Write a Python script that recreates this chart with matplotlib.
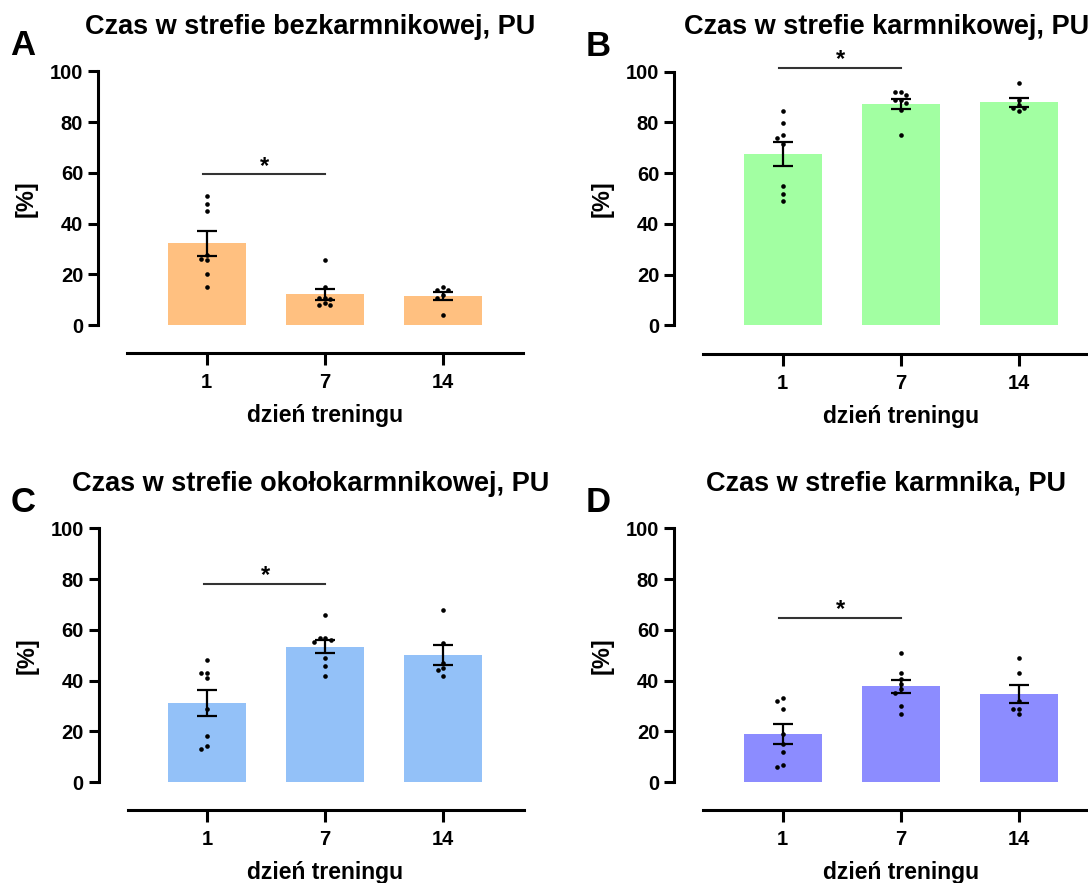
import numpy as np
import matplotlib
matplotlib.use("Agg")
import matplotlib.pyplot as plt
from matplotlib import transforms

plt.rcParams['font.family'] = ['Liberation Sans', 'DejaVu Sans']
plt.rcParams['font.weight'] = 'bold'

# ---- data -------------------------------------------------------------
days = ["1", "7", "14"]
x_title = "dzień treningu"
y_title = "[%]"

titles = [
    "Czas w strefie bezkarmnikowej, PU",
    "Czas w strefie karmnikowej, PU",
    "Czas w strefie okołokarmnikowej, PU",
    "Czas w strefie karmnika, PU",
]
letters = ["A", "B", "C", "D"]
bar_colors = ["#FFC080", "#A2FFA2", "#93C1F8", "#8C8CFF"]

# individual animals, one list per training day
zone_free = [
    [50.8, 47.8, 44.9, 27.5, 25.9, 25.6, 20.0, 14.9],
    [25.7, 14.9, 10.8, 10.8, 10.1, 8.8, 7.8, 7.8],
    [15.0, 13.9, 13.9, 12.0, 10.6, 3.8],
]
zone_feeding = [
    [84.6, 79.7, 74.8, 73.7, 71.6, 54.8, 51.8, 48.8],
    [91.8, 91.8, 90.9, 88.8, 88.8, 87.4, 84.7, 74.8],
    [95.5, 88.7, 86.8, 85.7, 85.7, 84.6],
]
zone_near = [
    [48.0, 43.0, 43.0, 40.9, 29.0, 18.0, 14.1, 13.0],
    [65.8, 56.8, 56.8, 55.9, 55.2, 48.9, 45.7, 41.9],
    [67.8, 54.9, 46.8, 44.9, 44.0, 41.9],
]
zone_feeder = [
    [33.0, 31.9, 28.9, 18.9, 15.1, 11.8, 6.9, 5.8],
    [50.9, 42.8, 40.7, 38.8, 36.8, 35.0, 30.0, 26.8],
    [48.8, 42.8, 31.9, 28.9, 28.9, 26.8],
]
panels = [zone_free, zone_feeding, zone_near, zone_feeder]

# significant comparison (day 1 vs day 7) and the height of its bracket
sig_pairs = [(0, 1), (0, 1), (0, 1), (0, 1)]
sig_levels = [59.5, 101.4, 78.2, 64.8]
sig_text = "*"

# ---- layout -----------------------------------------------------------
W, H = 1088, 883
fig = plt.figure(figsize=(W / 100, H / 100), dpi=100)

AX_W, AX_H = 425, 282
ax_origins = [(98, 71.3), (674, 71.5), (98.5, 528.3), (674, 528.3)]
XMIN, XMAX = -0.921, 2.68
YMIN, YMAX = -11.1, 100
LW = 2.2


def px_axes(left, top):
    return fig.add_axes([left / W, 1 - (top + AX_H) / H, AX_W / W, AX_H / H])


def swarm_offsets(values, px_per_x, px_per_y, diam=4.6, step=5.7):
    """Spread overlapping points sideways, one dot-width at a time."""
    placed = []
    offs = []
    cands = [0]
    for i in range(1, 6):
        cands += [-i, i]
    for v in values:
        for c in cands:
            ox = c * step
            oy = v * px_per_y
            if all((ox - px) ** 2 + (oy - py) ** 2 >= diam ** 2 for px, py in placed):
                placed.append((ox, oy))
                offs.append(ox / px_per_x)
                break
    return offs


for idx, data in enumerate(panels):
    left, top = ax_origins[idx]
    ax = px_axes(left, top)
    ax.set_xlim(XMIN, XMAX)
    ax.set_ylim(YMIN, YMAX)
    ax.set_facecolor("none")

    means = [np.mean(g) for g in data]
    sems = [np.std(g, ddof=1) / np.sqrt(len(g)) for g in data]
    xs = np.arange(len(days))

    ax.bar(xs, means, width=0.66, color=bar_colors[idx], linewidth=0, zorder=1)
    ax.errorbar(xs, means, yerr=sems, fmt="none", ecolor="black",
                elinewidth=1.6, capsize=7, capthick=1.6, zorder=3)

    px_per_x = AX_W / (XMAX - XMIN)
    px_per_y = AX_H / (YMAX - YMIN)
    for xi, g in zip(xs, data):
        offs = swarm_offsets(g, px_per_x, px_per_y)
        ax.scatter(xi + np.array(offs), g, s=11, color="black",
                   linewidths=0, zorder=4, clip_on=False)

    a, b = sig_pairs[idx]
    h = sig_levels[idx]
    ax.plot([a - 0.03, b], [h, h], color="#333333", lw=1.5,
            clip_on=False, zorder=2)
    ax.annotate(sig_text, xy=((a + b) / 2 - 0.01, h), xytext=(0, -2.5),
                textcoords="offset points", ha="center", va="bottom",
                fontsize=17, annotation_clip=False)

    # axes styling
    for s in ("top", "right"):
        ax.spines[s].set_visible(False)
    ax.spines["left"].set_bounds(0, 100)
    ax.spines["bottom"].set_bounds(-0.675, XMAX)
    for s in ("left", "bottom"):
        ax.spines[s].set_linewidth(LW)
        ax.spines[s].set_capstyle("projecting")
    ax.set_yticks([0, 20, 40, 60, 80, 100])
    ax.set_xticks(xs, days)
    ax.tick_params(axis="y", length=7.2, width=LW, labelsize=14.5, pad=3.5)
    ax.tick_params(axis="x", length=8.5, width=LW, labelsize=14.5, pad=6)
    for lab in ax.get_xticklabels() + ax.get_yticklabels():
        lab.set_fontweight("bold")

    ax.set_ylabel(y_title, fontsize=17, fontweight="bold")
    ax.yaxis.set_label_coords(-0.141, (50 - YMIN) / (YMAX - YMIN))
    trans = transforms.blended_transform_factory(ax.transData, ax.transAxes)
    ax.text(1, -0.222, x_title, transform=trans, ha="center", va="center",
            fontsize=16.5, fontweight="bold")

    # panel title and letter
    fig.text((left + AX_W / 2) / W, 1 - (top - 37.5) / H, titles[idx],
             ha="center", va="baseline", fontsize=19.5, fontweight="bold")
    fig.text((left - 88) / W, 1 - (top - 16) / H, letters[idx],
             ha="left", va="baseline", fontsize=25, fontweight="bold")

fig.savefig("out.png", dpi=100)
